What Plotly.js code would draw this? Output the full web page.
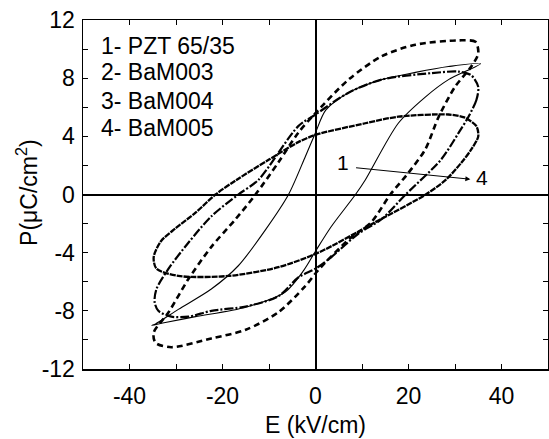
<!DOCTYPE html>
<html>
<head>
<meta charset="utf-8">
<script src="https://cdn.plot.ly/plotly-3.0.1.min.js"></script>
<style>html,body{margin:0;padding:0;background:#fff;}#chart{width:549px;height:439px;}</style>
</head>
<body>
<div id="chart"></div>
<script>
// 1- PZT 65/35 (thin solid)
const pztE = [35.5, 28.6, 21.5, 14.2, 7.1, 2.2, 0, -2.2, -5.8, -10.7, -16.6, -22.4, -29.5, -34.4, -35.2,
              -32.3, -25.8, -15, -6.5, -2.5, 0, 3.4, 8.6, 10.7, 17.8, 23.6, 28.6, 35.5];
const pztP = [9.0, 8.8, 8.4, 7.9, 7.0, 5.8, 4.25, 2.6, 0, -2.4, -4.9, -6.5, -7.9, -8.9, -9.0,
              -8.8, -8.4, -7.75, -6.7, -5.2, -3.9, -2.2, 0, 1.0, 4.9, 6.7, 7.9, 9.0];
// 2- BaM003 (dashed)
const bam3E = [35, 34.4, 30.8, 21.5, 14.2, 7.1, 0, -3.7, -8, -12.9, -17.2, -22.4, -27.3, -31.6, -34.8,
               -34.4, -31, -22.4, -15, -8, -2.2, 0.6, 7.1, 12, 16.1, 20, 23.6, 26.5, 30, 33.5, 35];
const bam3P = [9.7, 10.5, 10.6, 10.3, 9.5, 7.9, 5.6, 4.25, 2.2, 0, -1.7, -3.6, -5.8, -8.1, -9.5,
               -10.2, -10.5, -9.9, -9.3, -8.1, -6.3, -5.2, -3.1, -1.9, 0, 1.5, 3.1, 5.35, 7.4, 8.8, 9.7];
// 3- BaM004 (dash-dot)
const bam4E = [35, 34.6, 32.9, 30.8, 27, 19.4, 14.2, 9.2, 3.4, 0, -3.7, -8, -15, -22.4, -27.3, -31, -33.8,
               -34.6, -34.2, -31.6, -27.3, -22.4, -16.6, -12.3, -3.7, 0, 7.1, 14.2, 25, 30.8, 33.5, 35];
const bam4P = [7.4, 6.5, 5.35, 4.25, 2.4, 0, -1.7, -2.7, -4.3, -5.1, -5.7, -7.0, -7.7, -8.0, -8.4, -8.4, -8.0,
               -7.4, -6.5, -5.1, -3.3, -1.5, 0, 1.0, 4.7, 5.5, 7.0, 7.9, 8.35, 8.45, 8.2, 7.4];
// 4- BaM005 (thick dotted)
const bam5E = [35, 34.6, 32, 28.6, 17.8, 10.7, 0, -3.7, -10, -17, -21.5, -25.8, -30, -33.2, -34.8,
               -34.2, -29.5, -18.7, -8, 0.6, 12.9, 23.7, 28, 31.4, 33.5, 35];
const bam5P = [4.0, 4.7, 5.3, 5.5, 5.35, 4.9, 4.1, 3.6, 2.4, 1.0, 0, -1.25, -2.3, -3.2, -4.3,
               -5.1, -5.6, -5.6, -5.0, -4.0, -1.9, 0, 1.0, 2.2, 3.1, 4.0];

const legendLines = ["1- PZT 65/35", "2- BaM003", "3- BaM004", "4- BaM005"];
const legendY = [10.2, 8.4, 6.45, 4.6];

const xTicks = [-40, -20, 0, 20, 40];
const yTicks = [-12, -8, -4, 0, 4, 8, 12];

const FONT = "Liberation Sans, Arial, sans-serif";
const FS = 23;

const traces = [
  {x: pztE, y: pztP, mode: 'lines', line: {color: '#000', width: 1.1, shape: 'spline', smoothing: 0.8}},
  {x: bam3E, y: bam3P, mode: 'lines', line: {color: '#000', width: 2.6, dash: '6px,4px', shape: 'spline', smoothing: 0.8}},
  {x: bam4E, y: bam4P, mode: 'lines', line: {color: '#000', width: 2.2, dash: '9px,2px,2px,2px', shape: 'spline', smoothing: 0.8}},
  {x: bam5E, y: bam5P, mode: 'lines', line: {color: '#000', width: 2.3, dash: '6px,1px', shape: 'spline', smoothing: 0.8}}
];

const annotations = legendLines.map((t, i) => ({
  x: -46.5, y: legendY[i], xref: 'x', yref: 'y', text: t, showarrow: false,
  xanchor: 'left', yanchor: 'middle', font: {family: FONT, size: FS, color: '#000'}
}));
annotations.push({x: 6.0, y: 2.2, xref: 'x', yref: 'y', text: '1', showarrow: false,
  font: {family: FONT, size: 21, color: '#000'}});
annotations.push({x: 35.7, y: 1.15, xref: 'x', yref: 'y', text: '4', showarrow: false,
  font: {family: FONT, size: 21, color: '#000'}});
annotations.push({x: 33.3, y: 1.05, xref: 'x', yref: 'y', ax: 8.4, ay: 1.85, axref: 'x', ayref: 'y',
  text: '', showarrow: true, arrowhead: 2, arrowsize: 1, arrowwidth: 1, arrowcolor: '#000', standoff: 0, startstandoff: 0});
// y-axis title
annotations.push({x: -0.12, y: 0.505, xref: 'paper', yref: 'paper', text: 'P(\u03bcC/cm<sup>2</sup>)',
  textangle: -90, showarrow: false, xanchor: 'center', yanchor: 'middle',
  font: {family: FONT, size: FS, color: '#000'}});

const axisCommon = {
  showgrid: false, showline: true, linecolor: '#000', linewidth: 1.5, mirror: 'allticks',
  ticks: 'inside', ticklen: 5, tickwidth: 1, tickcolor: '#000',
  zeroline: true, zerolinecolor: '#000', zerolinewidth: 2,
  tickfont: {family: FONT, size: FS, color: '#000'}
};

const layout = {
  width: 549, height: 439,
  margin: {l: 83, r: 1, t: 20, b: 70},
  paper_bgcolor: '#fff', plot_bgcolor: '#fff',
  showlegend: false,
  font: {family: FONT, color: '#000'},
  xaxis: Object.assign({}, axisCommon, {
    range: [-50, 50], tickmode: 'array', tickvals: xTicks, ticktext: xTicks.map(String),
    ticklabelstandoff: 6,
    minor: {dtick: 10, tick0: 0, ticks: 'inside', ticklen: 5, tickcolor: '#000', tickwidth: 1},
    title: {text: 'E (kV/cm)', font: {family: FONT, size: FS, color: '#000'}, standoff: 9}
  }),
  yaxis: Object.assign({}, axisCommon, {
    range: [-12, 12], tickmode: 'array', tickvals: yTicks, ticktext: yTicks.map(String),
    ticklabelstandoff: 2,
    minor: {dtick: 2, tick0: 0, ticks: 'inside', ticklen: 5, tickcolor: '#000', tickwidth: 1}
  }),
  annotations: annotations
};

Plotly.newPlot('chart', traces, layout, {displayModeBar: false, staticPlot: true});
</script>
</body>
</html>
